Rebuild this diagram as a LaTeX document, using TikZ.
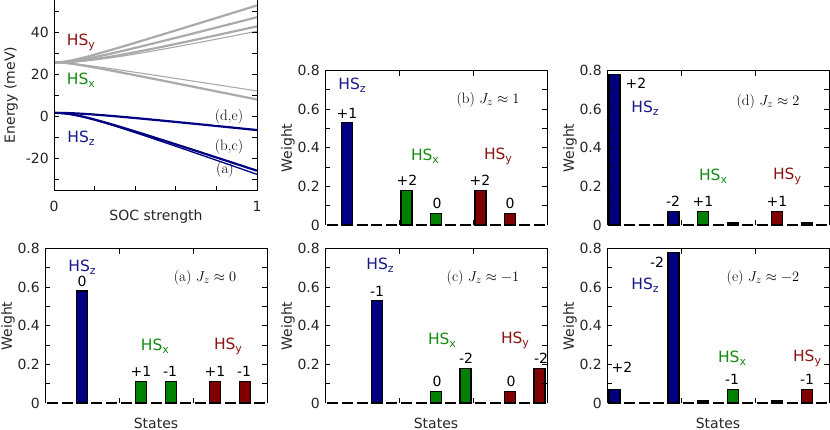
\documentclass[tikz,border=0pt]{standalone}
\usepackage{fontspec}
\setsansfont{DejaVu Sans}
\usepackage{amsmath}
\definecolor{bar0}{RGB}{0,0,128}
\definecolor{bar1}{RGB}{0,128,0}
\definecolor{bar2}{RGB}{128,0,0}
\definecolor{lz}{RGB}{25,25,140}
\definecolor{lx}{RGB}{20,140,20}
\definecolor{ly}{RGB}{140,20,20}
\definecolor{grayline}{RGB}{170,170,170}
\newcommand\hs[1]{HS\raisebox{-0.35ex}{\fontsize{11}{12}\selectfont #1}}
\tikzset{
 hsz/.style={font=\sffamily\fontsize{15.5}{17}\selectfont, text=lz, inner sep=1pt},
 hsx/.style={font=\sffamily\fontsize{15.5}{17}\selectfont, text=lx, inner sep=1pt},
 hsy/.style={font=\sffamily\fontsize{15.5}{17}\selectfont, text=ly, inner sep=1pt},
 val/.style={font=\sffamily\fontsize{14}{16}\selectfont, inner sep=0pt},
 ttl/.style={font=\fontsize{15}{17}\selectfont, inner sep=0pt},
 axl/.style={font=\sffamily\fontsize{14}{16}\selectfont, text=black!85, inner sep=0pt},
}
\newcommand\barpanel[4]{%
\begin{scope}[shift={(#1,430-#2)}]
 \foreach \h [count=\k from 0] in {#3} {
   \pgfmathsetmacro\xc{7.4+14.8*\k}
   \pgfmathtruncatemacro\g{\k<5 ? 0 : (\k<10 ? 1 : 2)}
   \ifdim\h pt=0pt \draw[line width=2] (\xc-5.5,0)--(\xc+5.5,0);
   \else \draw[line width=1.4, fill=bar\g] (\xc-5.5,0) rectangle (\xc+5.5,\h*193);\fi
 }
 \draw[line width=0.8] (0,0)--(0,154.4)--(222,154.4)--(222,0);
 \foreach \t in {1,...,7} {\draw[line width=0.8] (0,\t*19.3)--(5,\t*19.3) (222,\t*19.3)--(217,\t*19.3);}
 \foreach \t in {74,148} {\draw[line width=0.8] (\t,154.4)--(\t,149.4) (\t,0)--(\t,5);}
 \foreach \t/\l in {0/0,2/0.2,4/0.4,6/0.6,8/0.8} {\node[axl, anchor=east] at (-5,\t*19.3) {\l};}
 \node[axl, rotate=90] at (-37,77) {Weight};
 #4
\end{scope}}
\begin{document}
\begin{tikzpicture}[x=1pt,y=1pt]
\useasboundingbox (0,0) rectangle (830,430);
\fill[white] (0,0) rectangle (830,430);
% ---------- energy plot ----------
\begin{scope}
 \clip (54,239.3) rectangle (257,430);
 \foreach \k/\c/\w in {30/0.1/2.2, 25/0.15/2.2, 22/0.25/2.2, 20/0.3/1.1, -15/0.1/1.1, -19.5/0.1/2.2}
   \draw[grayline, line width=\w] plot[domain=0:1, samples=40, smooth] ({54+203*\x},{314+2.1*(25.5+\k*(sqrt(\x*\x+\c*\c)-\c))});
 \foreach \k/\c/\w in {34/0.15/1.3, 32/0.15/2.2, 10/0.2/2.2}
   \draw[bar0, line width=\w] plot[domain=0:1, samples=40, smooth] ({54+203*\x},{314+2.1*(1.5-\k*(sqrt(\x*\x+\c*\c)-\c))});
\end{scope}
\draw[line width=0.8] (54,430)--(54,239.3)--(257,239.3)--(257,430);
\foreach \e in {-30,-20,...,50} \draw[line width=0.8] (54,314+2.1*\e)--(59,314+2.1*\e) (257,314+2.1*\e)--(252,314+2.1*\e);
\foreach \s in {0.2,0.4,0.6,0.8} \draw[line width=0.8] (54+203*\s,239.3)--(54+203*\s,244.3);
\foreach \e in {-20,0,20,40} \node[axl, anchor=east] at (49,314+2.1*\e) {\e};
\node[axl] (x0) at (54,224) {0};
\node[axl] (x1) at (257,224) {1};
\node[axl] (xl) at (156,213) {SOC strength};
\node[axl, rotate=90] (yl) at (11,335) {Energy (meV)};
\node[hsy] (ey) at (81,388) {\hs{y}};
\node[hsx] (ex) at (81,350) {\hs{x}};
\node[hsz] (ez) at (81,292) {\hs{z}};
\node[ttl, fill=white, inner sep=1pt] (lde) at (229,313) {(d,e)};
\node[ttl] (lbc) at (229,283) {(b,c)};
\node[ttl] (la) at (225,260) {(a)};
% ---------- (a) ----------
\barpanel{45}{403}{0,0,0.58,0,0,0,0.11,0,0.11,0,0,0.11,0,0.11,0}{
 \node[hsz] at (37,136) {\hs{z}}; \node[val] at (37,122) {0};
 \node[hsx] at (110,57) {\hs{x}}; \node[hsy] at (183,57) {\hs{y}};
 \node[val] at (96,32) {+1}; \node[val] at (125,32) {-1};
 \node[val] at (170,32) {+1}; \node[val] at (199,32) {-1};
 \node[ttl] at (160,125) {(a) $J_z\approx 0$};
 \node[axl] at (111,-20) {States};}
% ---------- (b) ----------
\barpanel{325}{225}{0,0.53,0,0,0,0.18,0,0.06,0,0,0.18,0,0.06,0,0}{
 \node[hsz] at (27,140) {\hs{z}}; \node[val] at (22,112) {+1};
 \node[hsx] at (100,69) {\hs{x}}; \node[hsy] at (173,69) {\hs{y}};
 \node[val] at (82,45) {+2}; \node[val] at (112,22) {0};
 \node[val] at (155,45) {+2}; \node[val] at (185,22) {0};
 \node[ttl] at (163,125) {(b) $J_z\approx 1$};}
% ---------- (c) ----------
\barpanel{325}{403}{0,0,0,0.53,0,0,0,0.06,0,0.18,0,0,0.06,0,0.18}{
 \node[hsz] at (55,138) {\hs{z}}; \node[val] at (52,112) {-1};
 \node[hsx] at (117,63) {\hs{x}}; \node[hsy] at (190,63) {\hs{y}};
 \node[val] at (112,22) {0}; \node[val] at (141,45) {-2};
 \node[val] at (186,22) {0}; \node[val] at (216,45) {-2};
 \node[ttl] at (158,125) {(c) $J_z\approx -1$};
 \node[axl] at (111,-20) {States};}
% ---------- (d) ----------
\barpanel{607}{225}{0.78,0,0,0,0.07,0,0.07,0,0.01,0,0,0.07,0,0.01,0}{
 \node[val] at (29,142) {+2}; \node[hsz] at (38,117) {\hs{z}};
 \node[val] at (66,24) {-2}; \node[val] at (96,24) {+1};
 \node[hsx] at (106,49) {\hs{x}}; \node[hsy] at (180,49) {\hs{y}};
 \node[val] at (170,24) {+1};
 \node[ttl] at (161,123) {(d) $J_z\approx 2$};}
% ---------- (e) ----------
\barpanel{607}{403}{0.07,0,0,0,0.78,0,0.01,0,0.07,0,0,0.01,0,0.07,0}{
 \node[val] at (15,36) {+2}; \node[val] at (50,141) {-2};
 \node[hsz] at (38,118) {\hs{z}};
 \node[hsx] at (125,45) {\hs{x}}; \node[val] at (125,24) {-1};
 \node[hsy] at (200,45) {\hs{y}}; \node[val] at (200,24) {-1};
 \node[ttl] at (156,125) {(e) $J_z\approx -2$};
 \node[axl] at (111,-20) {States};}
\end{tikzpicture}
\end{document}
